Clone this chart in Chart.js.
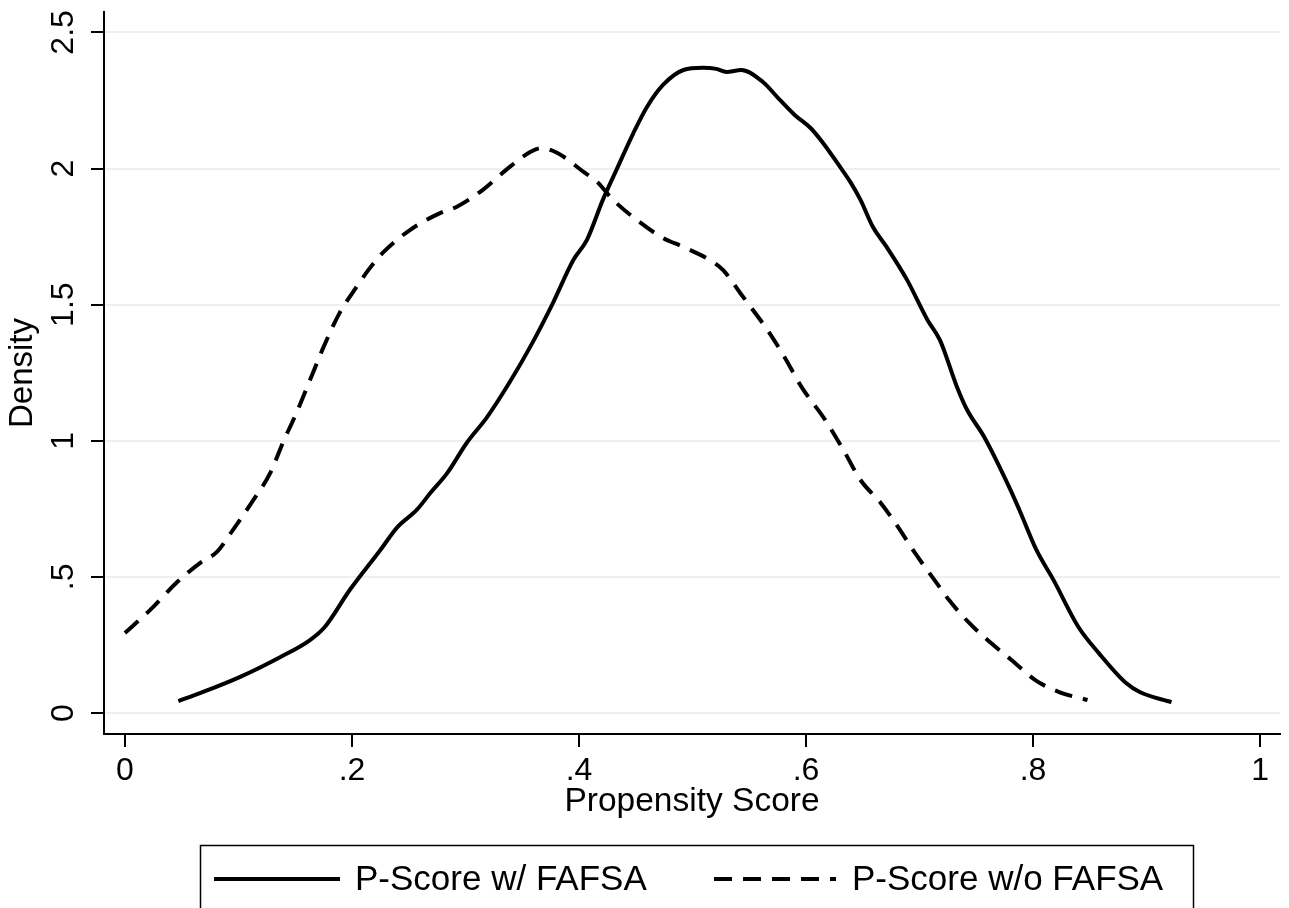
<!DOCTYPE html>
<html>
<head>
<meta charset="utf-8">
<script src="https://cdn.jsdelivr.net/npm/chart.js@4.4.1/dist/chart.umd.min.js"></script>
<style>
  html, body { margin: 0; padding: 0; background: #fff; }
  canvas { display: block; }
</style>
</head>
<body>
<canvas id="chart" width="1289" height="908"></canvas>
<script>
// data
const fafsaX = [0.047, 0.066, 0.101, 0.137, 0.163, 0.176, 0.198, 0.225, 0.240, 0.257, 0.269, 0.284, 0.301, 0.319, 0.339, 0.357, 0.377, 0.395, 0.407, 0.421, 0.433, 0.448, 0.460, 0.474, 0.492, 0.509, 0.521, 0.530, 0.543, 0.562, 0.577, 0.590, 0.604, 0.615, 0.630, 0.639, 0.648, 0.659, 0.671, 0.689, 0.707, 0.718, 0.733, 0.742, 0.757, 0.779, 0.788, 0.803, 0.818, 0.840, 0.858, 0.882, 0.894, 0.922];
const fafsaY = [0.044, 0.073, 0.132, 0.206, 0.268, 0.316, 0.452, 0.599, 0.683, 0.746, 0.808, 0.882, 0.992, 1.087, 1.216, 1.345, 1.506, 1.664, 1.738, 1.885, 1.995, 2.131, 2.227, 2.307, 2.362, 2.370, 2.366, 2.355, 2.362, 2.318, 2.252, 2.197, 2.149, 2.094, 2.006, 1.951, 1.885, 1.785, 1.712, 1.591, 1.444, 1.370, 1.198, 1.113, 1.014, 0.830, 0.746, 0.599, 0.489, 0.316, 0.220, 0.110, 0.077, 0.040];

const noFafsaX = [0, 0.022, 0.046, 0.066, 0.081, 0.095, 0.113, 0.128, 0.139, 0.151, 0.163, 0.175, 0.189, 0.204, 0.214, 0.227, 0.251, 0.278, 0.292, 0.315, 0.339, 0.357, 0.367, 0.381, 0.404, 0.416, 0.430, 0.451, 0.474, 0.492, 0.518, 0.527, 0.542, 0.566, 0.581, 0.596, 0.617, 0.633, 0.648, 0.666, 0.681, 0.696, 0.715, 0.726, 0.744, 0.763, 0.781, 0.802, 0.823, 0.848];
const noFafsaY = [0.294, 0.378, 0.481, 0.551, 0.592, 0.672, 0.782, 0.882, 0.992, 1.102, 1.223, 1.345, 1.469, 1.565, 1.625, 1.690, 1.774, 1.837, 1.859, 1.921, 2.006, 2.061, 2.075, 2.057, 1.988, 1.951, 1.885, 1.811, 1.745, 1.712, 1.657, 1.627, 1.543, 1.407, 1.308, 1.198, 1.076, 0.966, 0.856, 0.771, 0.684, 0.588, 0.478, 0.415, 0.330, 0.257, 0.195, 0.121, 0.077, 0.048];

const seriesLabels = ["P-Score w/ FAFSA", "P-Score w/o FAFSA"];
const xTickValues = [0, 0.2, 0.4, 0.6, 0.8, 1];
const xTickLabels = ["0", ".2", ".4", ".6", ".8", "1"];
const yTickValues = [0, 0.5, 1, 1.5, 2, 2.5];
const yTickLabels = ["0", ".5", "1", "1.5", "2", "2.5"];

const FONT = "'Liberation Sans', Arial, sans-serif";
const DASH = [18, 11];

const toPoints = (xs, ys) => xs.map((x, i) => ({ x: x, y: ys[i] }));

// y tick labels (rotated like Stata) + legend box
const stataExtras = {
  id: "stataExtras",
  afterDraw(chart) {
    const ctx = chart.ctx;
    const y = chart.scales.y;

    ctx.save();
    ctx.fillStyle = "#000";
    ctx.font = "32px " + FONT;
    ctx.textAlign = "center";
    ctx.textBaseline = "alphabetic";
    yTickValues.forEach((v, i) => {
      const py = y.getPixelForValue(v);
      ctx.save();
      ctx.translate(73, py);
      ctx.rotate(-Math.PI / 2);
      ctx.fillText(yTickLabels[i], 0, 0);
      ctx.restore();
    });
    ctx.restore();

    // legend
    ctx.save();
    ctx.strokeStyle = "#000";
    ctx.lineWidth = 1.5;
    ctx.strokeRect(200.5, 845.5, 993, 80);

    const ly = 879;
    const items = [
      { x0: 214, x1: 340, tx: 355 },
      { x0: 714, x1: 836, tx: 852 }
    ];
    chart.data.datasets.forEach((ds, i) => {
      const it = items[i];
      ctx.beginPath();
      ctx.lineWidth = 4;
      ctx.setLineDash(ds.borderDash || []);
      ctx.moveTo(it.x0, ly);
      ctx.lineTo(it.x1, ly);
      ctx.stroke();
      ctx.setLineDash([]);
      ctx.fillStyle = "#000";
      ctx.font = "35px " + FONT;
      ctx.textAlign = "left";
      ctx.textBaseline = "middle";
      ctx.fillText(ds.label, it.tx, ly + 1);
    });
    ctx.restore();
  }
};

new Chart(document.getElementById("chart"), {
  type: "line",
  data: {
    datasets: [
      {
        label: seriesLabels[0],
        data: toPoints(fafsaX, fafsaY),
        borderColor: "#000",
        borderWidth: 4,
        pointRadius: 0,
        cubicInterpolationMode: "monotone",
        fill: false
      },
      {
        label: seriesLabels[1],
        data: toPoints(noFafsaX, noFafsaY),
        borderColor: "#000",
        borderWidth: 4,
        borderDash: DASH,
        pointRadius: 0,
        cubicInterpolationMode: "monotone",
        fill: false
      }
    ]
  },
  options: {
    responsive: false,
    animation: false,
    devicePixelRatio: 1,
    layout: { padding: { top: 12, right: 9, bottom: 86, left: 0 } },
    plugins: {
      legend: { display: false },
      tooltip: { enabled: false }
    },
    scales: {
      x: {
        type: "linear",
        min: -0.0185,
        max: 1.0176,
        afterBuildTicks: (s) => { s.ticks = xTickValues.map(v => ({ value: v })); },
        afterFit: (s) => { s.height = 88; },
        grid: {
          drawOnChartArea: false,
          drawTicks: true,
          tickLength: 13,
          tickColor: "#000",
          lineWidth: 2
        },
        border: { display: true, color: "#000", width: 2 },
        ticks: {
          autoSkip: false,
          maxRotation: 0,
          padding: 5,
          color: "#000",
          font: { family: FONT, size: 32 },
          callback: (v) => {
            const i = xTickValues.indexOf(v);
            return i >= 0 ? xTickLabels[i] : "";
          }
        },
        title: {
          display: true,
          text: "Propensity Score",
          color: "#000",
          font: { family: FONT, size: 33.5 },
          padding: { top: 0, bottom: 0 }
        }
      },
      y: {
        type: "linear",
        min: -0.077,
        max: 2.575,
        afterBuildTicks: (s) => { s.ticks = yTickValues.map(v => ({ value: v })); },
        afterFit: (s) => { s.width = 104; },
        grid: {
          color: "#eaf1f2",
          lineWidth: 2,
          drawTicks: true,
          tickLength: 13,
          tickColor: "#000"
        },
        border: { display: true, color: "#000", width: 2 },
        ticks: { display: false },
        title: {
          display: true,
          text: "Density",
          color: "#000",
          font: { family: FONT, size: 33 },
          padding: { top: 3, bottom: 0 }
        }
      }
    }
  },
  plugins: [stataExtras]
});
</script>
</body>
</html>
